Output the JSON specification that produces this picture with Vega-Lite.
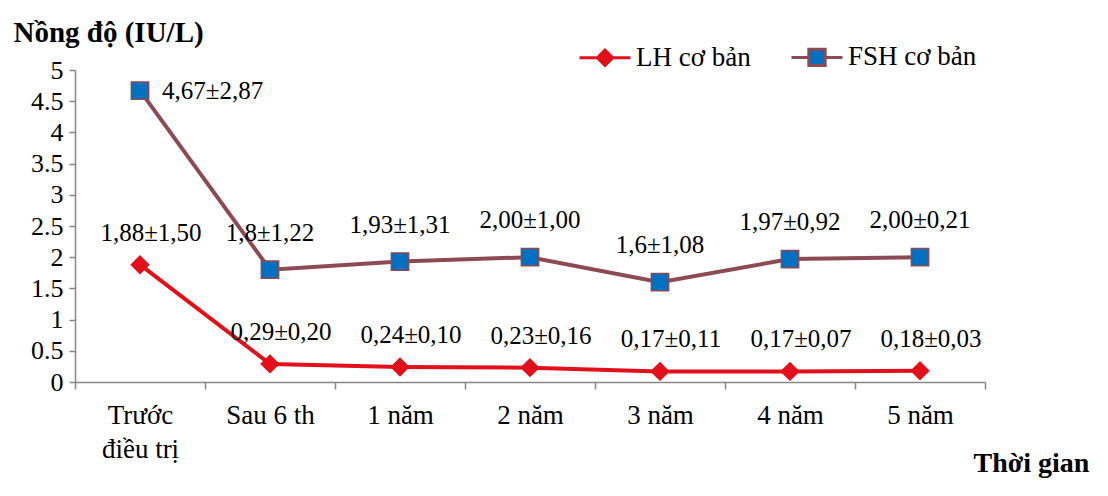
{
  "$schema": "https://vega.github.io/schema/vega-lite/v6.json",
  "autosize": "none",
  "width": 910,
  "height": 312,
  "padding": {"left": 75, "top": 70, "right": 123, "bottom": 114},
  "background": "white",
  "config": {
    "font": "Liberation Serif",
    "view": {"stroke": null},
    "axis": {"grid": false, "domainColor": "#868686", "tickColor": "#868686", "domainWidth": 1.5, "tickWidth": 1.5, "labelColor": "black", "titleColor": "black", "labelFont": "Liberation Serif", "titleFont": "Liberation Serif"}
  },
  "data": {
    "values": [
      {"t": "Trước điều trị", "series": "LH cơ bản", "value": 1.88, "label": "1,88±1,50", "pos": "above"},
      {"t": "Sau 6 th", "series": "LH cơ bản", "value": 0.29, "label": "0,29±0,20", "pos": "above"},
      {"t": "1 năm", "series": "LH cơ bản", "value": 0.24, "label": "0,24±0,10", "pos": "above"},
      {"t": "2 năm", "series": "LH cơ bản", "value": 0.23, "label": "0,23±0,16", "pos": "above"},
      {"t": "3 năm", "series": "LH cơ bản", "value": 0.17, "label": "0,17±0,11", "pos": "above"},
      {"t": "4 năm", "series": "LH cơ bản", "value": 0.17, "label": "0,17±0,07", "pos": "above"},
      {"t": "5 năm", "series": "LH cơ bản", "value": 0.18, "label": "0,18±0,03", "pos": "above"},
      {"t": "Trước điều trị", "series": "FSH cơ bản", "value": 4.67, "label": "4,67±2,87", "pos": "right"},
      {"t": "Sau 6 th", "series": "FSH cơ bản", "value": 1.8, "label": "1,8±1,22", "pos": "above"},
      {"t": "1 năm", "series": "FSH cơ bản", "value": 1.93, "label": "1,93±1,31", "pos": "above"},
      {"t": "2 năm", "series": "FSH cơ bản", "value": 2.0, "label": "2,00±1,00", "pos": "above"},
      {"t": "3 năm", "series": "FSH cơ bản", "value": 1.6, "label": "1,6±1,08", "pos": "above"},
      {"t": "4 năm", "series": "FSH cơ bản", "value": 1.97, "label": "1,97±0,92", "pos": "above"},
      {"t": "5 năm", "series": "FSH cơ bản", "value": 2.0, "label": "2,00±0,21", "pos": "above"}
    ]
  },
  "encoding": {
    "x": {
      "field": "t", "type": "ordinal", "bandPosition": 0.5,
      "sort": ["Trước điều trị", "Sau 6 th", "1 năm", "2 năm", "3 năm", "4 năm", "5 năm"],
      "scale": {"type": "band", "paddingInner": 0, "paddingOuter": 0},
      "axis": {
        "title": "Thời gian", "titleFontSize": 28, "titleFontWeight": "bold",
        "titleAlign": "left", "titleBaseline": "alphabetic", "titleX": 898, "titleY": 89, "titleAngle": 0,
        "labelAngle": 0, "labelFontSize": 27, "labelPadding": 13, "labelLineHeight": 34,
        "labelBaseline": "top",
        "labelExpr": "datum.label == 'Trước điều trị' ? ['Trước', 'điều trị'] : datum.label",
        "tickBand": "extent", "tickSize": 7
      }
    },
    "y": {
      "field": "value", "type": "quantitative",
      "scale": {"domain": [0, 5], "nice": false, "zero": true},
      "axis": {
        "title": "Nồng độ (IU/L)", "titleFontSize": 29, "titleFontWeight": "bold",
        "titleAngle": 0, "titleAlign": "left", "titleBaseline": "alphabetic", "titleX": -62, "titleY": -29,
        "values": [0, 0.5, 1, 1.5, 2, 2.5, 3, 3.5, 4, 4.5, 5], "format": "~g",
        "labelFontSize": 26, "labelPadding": 6, "tickSize": 6
      }
    }
  },
  "layer": [
    {
      "mark": {"type": "line", "strokeWidth": 4},
      "encoding": {
        "color": {
          "field": "series", "type": "nominal",
          "scale": {"domain": ["LH cơ bản", "FSH cơ bản"], "range": ["#E2101A", "#8C4A52"]},
          "legend": null
        }
      }
    },
    {
      "mark": {"type": "point", "filled": true, "size": 300, "strokeWidth": 1.5, "opacity": 1},
      "encoding": {
        "shape": {"field": "series", "type": "nominal", "scale": {"domain": ["LH cơ bản", "FSH cơ bản"], "range": ["diamond", "square"]}, "legend": null},
        "fill": {"field": "series", "type": "nominal", "scale": {"domain": ["LH cơ bản", "FSH cơ bản"], "range": ["#E2101A", "#0070C0"]}, "legend": null},
        "stroke": {"field": "series", "type": "nominal", "scale": {"domain": ["LH cơ bản", "FSH cơ bản"], "range": ["#E2101A", "#8C4A52"]}, "legend": null}
      }
    },
    {
      "transform": [{"filter": "false"}],
      "mark": {"type": "point", "filled": true, "size": 2500, "strokeWidth": 3, "opacity": 1},
      "encoding": {
        "shape": {"field": "series", "type": "nominal",
          "scale": {"domain": ["LH cơ bản", "FSH cơ bản"], "range": ["M-1,0H-0.28M0.28,0H1M0,-0.3L0.3,0L0,0.3L-0.3,0Z", "M-1,0H-0.32M0.32,0H1M-0.32,-0.32H0.32V0.32H-0.32Z"]},
          "legend": {
            "title": null, "orient": "none", "direction": "horizontal",
            "legendX": 503, "legendY": -40,
            "symbolSize": 2600, "symbolStrokeWidth": 3,
            "labelFontSize": 27, "labelFont": "Liberation Serif", "labelColor": "black",
            "labelOffset": 4, "columnPadding": 34
          }
        },
        "fill": {"field": "series", "type": "nominal", "scale": {"domain": ["LH cơ bản", "FSH cơ bản"], "range": ["#E2101A", "#0070C0"]}},
        "stroke": {"field": "series", "type": "nominal", "scale": {"domain": ["LH cơ bản", "FSH cơ bản"], "range": ["#E2101A", "#8C4A52"]}}
      }
    },
    {
      "transform": [{"filter": "datum.series === 'LH cơ bản'"}],
      "mark": {"type": "text", "fontSize": 25, "dy": -32, "dx": 11, "color": "black", "font": "Liberation Serif"},
      "encoding": {"text": {"field": "label"}}
    },
    {
      "transform": [{"filter": "datum.series === 'FSH cơ bản' && datum.pos === 'above'"}],
      "mark": {"type": "text", "fontSize": 25, "dy": -37, "color": "black", "font": "Liberation Serif"},
      "encoding": {"text": {"field": "label"}}
    },
    {
      "transform": [{"filter": "datum.pos === 'right'"}],
      "mark": {"type": "text", "fontSize": 25, "align": "left", "dx": 22, "color": "black", "font": "Liberation Serif"},
      "encoding": {"text": {"field": "label"}}
    }
  ],
  "resolve": {"scale": {"shape": "independent", "fill": "independent", "stroke": "independent"}}
}
